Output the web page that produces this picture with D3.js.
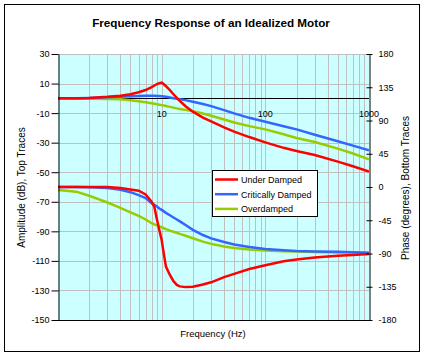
<!DOCTYPE html>
<html>
<head>
<meta charset="utf-8">
<script src="https://cdn.jsdelivr.net/npm/d3@7/dist/d3.min.js"></script>
<style>
  html, body { margin: 0; padding: 0; background: #fff; }
  svg { display: block; font-family: "Liberation Sans", Arial, sans-serif; }
</style>
</head>
<body>
<svg id="chart" width="425" height="357"></svg>
<script>
// ---- Data ----
const frequency = [1, 1.5, 2, 3, 4, 5, 6, 7, 8, 8.5, 9, 9.5, 10, 10.5, 11, 12, 13, 14, 15, 17, 20, 25, 30, 40, 50, 70, 100, 150, 200, 300, 500, 700, 1000];

// Amplitude (dB), left axis
const underAmp    = [0, 0.1, 0.3, 1.0, 1.8, 2.8, 4.1, 5.6, 7.6, 8.7, 9.6, 10.3, 10.6, 9.5, 8.2, 5.6, 2.8, 0.3, -1.8, -5.3, -9.0, -13.0, -15.6, -19.6, -22.5, -26.2, -29.8, -33.5, -35.6, -38.3, -42.8, -46.0, -49.5];
const criticalAmp = [0, 0.1, 0.3, 0.7, 1.1, 1.4, 1.6, 1.7, 1.7, 1.7, 1.6, 1.5, 1.4, 1.2, 1.0, 0.6, 0.1, -0.3, -0.6, -1.2, -2.3, -3.8, -5.3, -8.0, -10.2, -13.2, -15.8, -18.9, -21.0, -24.6, -29.0, -32.0, -35.2];
const overAmp     = [0, -0.1, -0.2, -0.4, -0.7, -1.3, -1.9, -2.6, -3.3, -3.6, -4.0, -4.3, -4.6, -4.9, -5.2, -5.8, -6.3, -6.8, -7.2, -7.8, -8.8, -10.3, -11.8, -14.3, -16.3, -18.8, -21.0, -24.3, -26.8, -29.6, -34.0, -37.3, -41.3];

// Phase (degrees), right axis
const underPhase    = [0, 0, 0, 0, -1.5, -3.5, -5, -10, -20, -27, -43.5, -58.5, -71.7, -91, -107.8, -119, -127.5, -132.5, -134.5, -135.5, -135, -132, -129, -122, -117.5, -111, -106, -100.5, -98, -95.5, -93, -92, -90.7];
const criticalPhase = [0, 0, -0.3, -1.5, -3.7, -7, -11, -15, -22, -24, -26.5, -29, -31, -33, -35, -38.3, -41.3, -44, -46.5, -51.5, -58, -65, -69.5, -74.5, -77.8, -81.3, -84, -85.6, -86.5, -87.2, -87.8, -88.3, -89];
const overPhase     = [-4, -6.3, -11.8, -21, -28.2, -34.2, -39, -44, -49, -50.5, -52, -53.3, -54.5, -55.8, -57, -59, -60.5, -62, -63.5, -66, -69.4, -74, -77, -80.5, -82.5, -84.5, -85.8, -86.8, -87.3, -88, -88.5, -88.8, -89];

const seriesNames  = ["Under Damped", "Critically Damped", "Overdamped"];
const seriesColors = ["#ff0000", "#3366ff", "#99cc00"];

const ampTicks   = [30, 10, -10, -30, -50, -70, -90, -110, -130, -150];
const phaseTicks = [180, 135, 90, 45, 0, -45, -90, -135, -180];
const freqLabels = [10, 100, 1000];
const freqGrid   = [2,3,4,5,6,7,8,9,10,20,30,40,50,60,70,80,90,100,200,300,400,500,600,700,800,900];

// ---- Layout ----
const svg = d3.select("#chart");
const L = 58, R = 369, T = 54, B = 320;

const x  = d3.scaleLog().domain([1, 1000]).range([L, R]);
const yA = d3.scaleLinear().domain([-150, 30]).range([B, T]);
const yP = d3.scaleLinear().domain([-180, 180]).range([B, T]);
const px = v => Math.round(v) + 0.5;

// chart background + border
svg.append("rect").attr("x", 0).attr("y", 0).attr("width", 425).attr("height", 357).attr("fill", "#fff");
svg.append("rect").attr("x", 4.5).attr("y", 4.5).attr("width", 415).attr("height", 347)
  .attr("fill", "#fff").attr("stroke", "#000").attr("stroke-width", 1);

// plot area
svg.append("rect").attr("x", L).attr("y", T).attr("width", R - L).attr("height", B - T).attr("fill", "#ccffff");

// gridlines
const grid = svg.append("g").attr("stroke", "#c0c0c0").attr("stroke-width", 1);
freqGrid.forEach(f => {
  grid.append("line").attr("x1", px(x(f))).attr("x2", px(x(f))).attr("y1", T).attr("y2", B);
});
ampTicks.forEach(v => {
  grid.append("line").attr("x1", L).attr("x2", R).attr("y1", px(yA(v))).attr("y2", px(yA(v)));
});

// zero dB line (category axis)
svg.append("line").attr("x1", L).attr("x2", R).attr("y1", px(yA(0))).attr("y2", px(yA(0)))
  .attr("stroke", "#000").attr("stroke-width", 1);
// bottom axis line
svg.append("line").attr("x1", L).attr("x2", R + 0.5).attr("y1", px(B)).attr("y2", px(B))
  .attr("stroke", "#000").attr("stroke-width", 1);

// series lines
const clip = svg.append("defs").append("clipPath").attr("id", "plotclip");
clip.append("rect").attr("x", L).attr("y", T - 2).attr("width", R - L).attr("height", B - T + 4);

const lineA = d3.line().x((d, i) => x(frequency[i])).y(d => yA(d));
const lineP = d3.line().x((d, i) => x(frequency[i])).y(d => yP(d));
const linesG = svg.append("g").attr("clip-path", "url(#plotclip)");
const ampSeries = [underAmp, criticalAmp, overAmp];
const phaseSeries = [underPhase, criticalPhase, overPhase];
[2, 1, 0].forEach(k => {
  linesG.append("path").datum(phaseSeries[k]).attr("d", lineP)
    .attr("fill", "none").attr("stroke", seriesColors[k]).attr("stroke-width", 2.5);
});
[2, 1, 0].forEach(k => {
  linesG.append("path").datum(ampSeries[k]).attr("d", lineA)
    .attr("fill", "none").attr("stroke", seriesColors[k]).attr("stroke-width", 2.5);
});

// left axis
const leftAxis = d3.axisLeft(yA).tickValues(ampTicks).tickSizeInner(7).tickSizeOuter(0).tickPadding(2)
  .tickFormat(d => String(d));
const gL = svg.append("g").attr("transform", `translate(${L + 0.5},0)`).call(leftAxis);
gL.select(".domain").attr("stroke", "#000");
gL.selectAll("text").attr("font-size", 9).attr("font-family", "Liberation Sans, Arial, sans-serif").attr("fill", "#000");

// right axis
const rightAxis = d3.axisRight(yP).tickValues(phaseTicks).tickSizeInner(3).tickSizeOuter(0).tickPadding(6)
  .tickFormat(d => String(d));
const gR = svg.append("g").attr("transform", `translate(${R + 0.5},0)`).call(rightAxis);
gR.select(".domain").attr("stroke", "#000");
gR.selectAll(".tick line").attr("x1", -3);
gR.selectAll("text").attr("font-size", 9).attr("font-family", "Liberation Sans, Arial, sans-serif").attr("fill", "#000");

// frequency labels (below zero line)
svg.append("g").selectAll("text").data(freqLabels).join("text")
  .attr("x", d => x(d)).attr("y", 117).attr("text-anchor", "middle")
  .attr("font-size", 9).attr("fill", "#000").text(d => d);

// title
svg.append("text").attr("x", 211).attr("y", 27).attr("text-anchor", "middle")
  .attr("font-size", 11.7).attr("font-weight", "bold").text("Frequency Response of an Idealized Motor");

// axis titles
svg.append("text").attr("x", 213).attr("y", 337).attr("text-anchor", "middle")
  .attr("font-size", 9.5).text("Frequency (Hz)");
svg.append("text").attr("transform", "translate(24.5,187.5) rotate(-90)").attr("text-anchor", "middle")
  .attr("font-size", 10).text("Amplitude (dB), Top Traces");
svg.append("text").attr("transform", "translate(408.5,188) rotate(-90)").attr("text-anchor", "middle")
  .attr("font-size", 10).text("Phase (degrees), Bottom Traces");

// legend
const lg = svg.append("g");
lg.append("rect").attr("x", 212.5).attr("y", 170.5).attr("width", 105).attr("height", 46)
  .attr("fill", "#fff").attr("stroke", "#000").attr("stroke-width", 1);
seriesNames.forEach((name, i) => {
  const yy = 179.5 + i * 14.7;
  lg.append("line").attr("x1", 215).attr("x2", 238).attr("y1", yy).attr("y2", yy)
    .attr("stroke", seriesColors[i]).attr("stroke-width", 2.5);
  lg.append("text").attr("x", 241).attr("y", yy + 3.3).attr("font-size", 9).text(name);
});
</script>
</body>
</html>
